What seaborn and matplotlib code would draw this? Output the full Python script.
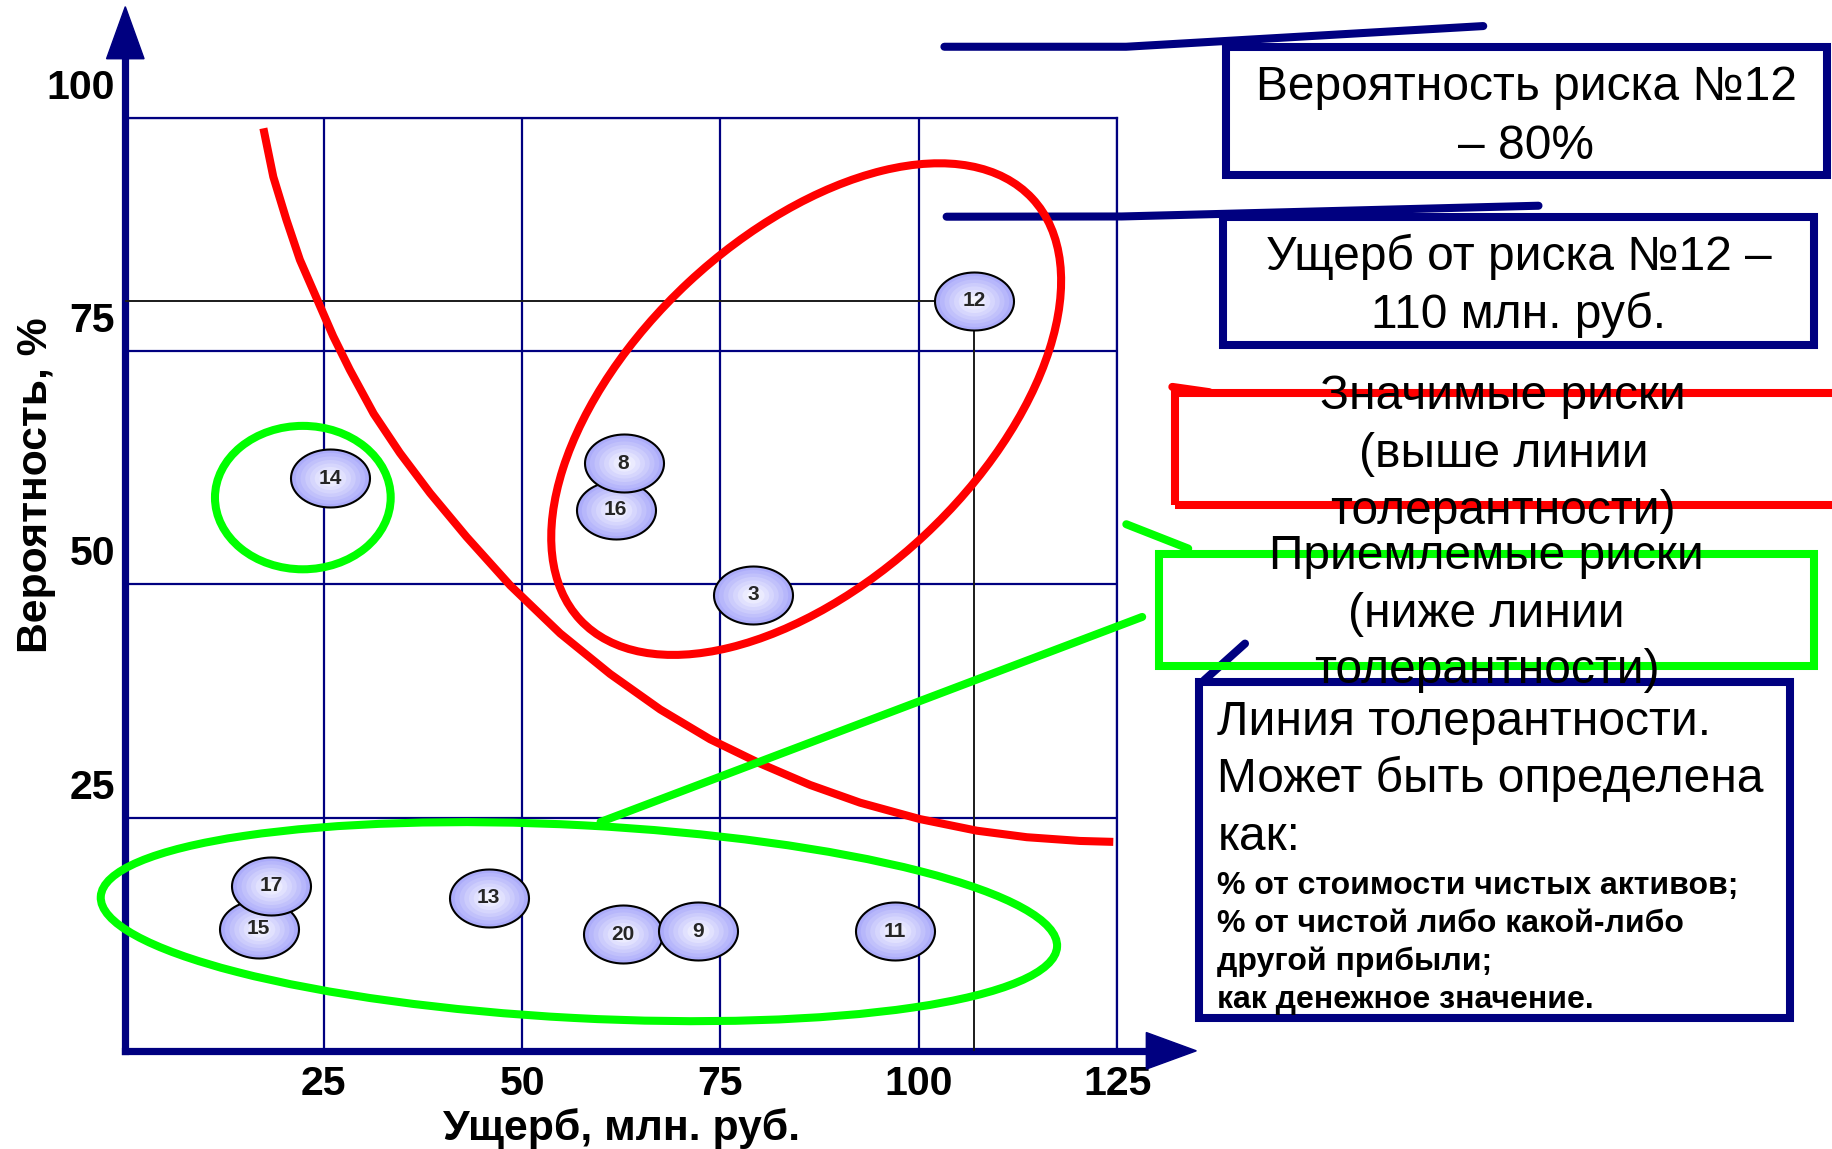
import numpy as np
import pandas as pd
import matplotlib
matplotlib.use("Agg")
import matplotlib.pyplot as plt
import seaborn as sns
from matplotlib import font_manager, transforms
from matplotlib.path import Path
from matplotlib.patches import Ellipse, Rectangle, Polygon
from matplotlib.lines import Line2D

# ---------------- data ----------------
risk_ids = ["15", "17", "14", "13", "16", "8", "20", "9", "3", "11", "12"]
damage = [16.8, 18.4, 25.8, 45.8, 61.8, 62.8, 62.7, 72.2, 79.1, 97.0, 107.0]
probability = [13.1, 17.7, 61.4, 16.4, 58.0, 63.0, 12.5, 12.8, 48.9, 12.8, 80.4]

tol_damage = [17.4, 18.65, 20.3, 22.0, 24.1, 26.2, 28.3, 31.3, 34.6, 38.4, 43.0, 48.5,
              54.8, 61.1, 67.4, 73.7, 80.0, 86.3, 92.6, 100.1, 107.3, 113.6, 120.3, 124.5]
tol_prob = [98.9, 93.7, 89.1, 84.8, 80.7, 76.6, 73.0, 68.3, 64.1, 59.8, 55.1, 49.9,
            44.75, 40.4, 36.6, 33.4, 30.8, 28.5, 26.6, 24.85, 23.6, 22.9, 22.5, 22.4]

x_ticks = [25, 50, 75, 100, 125]
y_ticks = [25, 50, 75, 100]
x_label = "Ущерб, млн. руб."
y_label = "Вероятность, %"

box1_lines = ["Вероятность риска №12", "– 80%"]
box2_lines = ["Ущерб от риска №12 –", "110 млн. руб."]
box3_lines = ["Значимые риски", "(выше линии", "толерантности)"]
box4_lines = ["Приемлемые риски", "(ниже линии", "толерантности)"]
box5_big = ["Линия толерантности.", "Может быть определена", "как:"]
box5_small = ["% от стоимости чистых активов;", "% от чистой либо какой-либо",
              "другой прибыли;", "как денежное значение."]

df = pd.DataFrame({"risk": risk_ids, "damage": damage, "probability": probability})
tol = pd.DataFrame({"damage": tol_damage, "probability": tol_prob})

# ---------------- style ----------------
sns.set_theme(style="white")
names = {f.name for f in font_manager.fontManager.ttflist}
BASE = "Liberation Sans" if "Liberation Sans" in names else "DejaVu Sans"
NARROW = "Liberation Sans Narrow" if "Liberation Sans Narrow" in names else None
plt.rcParams["font.family"] = [BASE, "DejaVu Sans"]

NAVY = "#000080"
RED = "#ff0000"
GREEN = "#00ff00"
LW = 5.8

W, H = 1568.0, 983.0          # layout units
FW, FH = 18.32, 11.49
fig = plt.figure(figsize=(FW, FH), dpi=100)
fig.patch.set_facecolor("white")

def inch(x, y):
    return x * FW / W, (H - y) * FH / H

ax = fig.add_axes([107.25 / W, 1 - 899 / H, 849 / W, 798 / H])
ax.set_xlim(0, 125)
ax.set_ylim(0, 100)
ax.set_facecolor("white")

# grid
ax.set_xticks(x_ticks)
ax.set_yticks(y_ticks)
ax.grid(True, color=NAVY, lw=1.6)
ax.set_axisbelow(True)
for s in ["top", "right"]:
    ax.spines[s].set_visible(True)
    ax.spines[s].set_color(NAVY)
    ax.spines[s].set_linewidth(1.6)
for s in ["left", "bottom"]:
    ax.spines[s].set_visible(False)

ax.tick_params(axis="both", length=0)
ax.tick_params(axis="x", pad=10.5)
ax.tick_params(axis="y", pad=7.5)
ax.set_xticklabels([str(v) for v in x_ticks], fontsize=29.5, fontweight="bold", color="black")
ax.set_yticklabels([str(v) for v in y_ticks], fontsize=29.5, fontweight="bold", color="black")
off = transforms.ScaledTranslation(0, 0.19, fig.dpi_scale_trans)
for lbl in ax.get_yticklabels():
    lbl.set_va("baseline")
    lbl.set_transform(lbl.get_transform() + off)

ax.set_xlabel(x_label, fontsize=30.8, fontweight="bold", va="baseline", color="black")
ax.xaxis.set_label_coords(0.5003, -0.0961)
ax.set_ylabel(y_label, fontsize=30.7, fontweight="bold", rotation=90,
              rotation_mode="anchor", ha="center", va="baseline", color="black")
ax.yaxis.set_label_coords(-0.0792, 0.6065)

# axis arrows
ax.plot([0, 0], [0, 1.07], transform=ax.transAxes, color=NAVY, lw=5.2,
        solid_capstyle="projecting", clip_on=False, zorder=4)
ax.plot([0, 1.035], [0, 0], transform=ax.transAxes, color=NAVY, lw=5.2,
        solid_capstyle="projecting", clip_on=False, zorder=4)
ax.add_patch(Polygon([(-0.0189, 1.0636), (0.0189, 1.0636), (0, 1.1194)], closed=True,
                     transform=ax.transAxes, color=NAVY, clip_on=False, zorder=4))
ax.add_patch(Polygon([(1.0293, -0.0196), (1.0293, 0.0196), (1.0797, 0)], closed=True,
                     transform=ax.transAxes, color=NAVY, clip_on=False, zorder=4))

# tolerance curve
sns.lineplot(data=tol, x="damage", y="probability", sort=False, estimator=None,
             color=RED, lw=LW, ax=ax, zorder=6, solid_capstyle="butt", solid_joinstyle="round")

# guides for risk 12
r12 = df[df["risk"] == "12"].iloc[0]
ax.plot([0, r12["damage"]], [r12["probability"], r12["probability"]], color="#1a1a1a", lw=1.4, zorder=5)
ax.plot([r12["damage"], r12["damage"]], [r12["probability"], 0], color="#1a1a1a", lw=1.4, zorder=5)

# bubbles
t = np.linspace(0, 2 * np.pi, 73)
ell_marker = Path(np.column_stack([np.cos(t), 0.734 * np.sin(t)]), closed=True)
S = 3237
base_rgb = np.array([172, 172, 250]) / 255
center_rgb = np.array([246, 246, 255]) / 255
layers = [0.88, 0.76, 0.64, 0.52, 0.40, 0.28, 0.16]
for i in range(len(df)):
    row = df.iloc[[i]]
    z = 10 + i * 12
    sns.scatterplot(data=row, x="damage", y="probability", ax=ax, marker=ell_marker, s=S,
                    color=tuple(base_rgb), edgecolor="black", linewidth=1.5, zorder=z, legend=False)
    for k, sc in enumerate(layers):
        f = (k + 1) / len(layers)
        col = tuple(base_rgb * (1 - f) + center_rgb * f)
        sns.scatterplot(data=row, x="damage", y="probability", ax=ax, marker=ell_marker,
                        s=S * sc ** 2, color=col, linewidth=0, zorder=z + 1 + k, legend=False)
    xv, yv, lab = row["damage"].iloc[0], row["probability"].iloc[0], row["risk"].iloc[0]
    if NARROW:
        ax.text(xv, yv, lab, ha="center", va="center", fontsize=17, fontweight="bold",
                family=NARROW, zorder=z + 10)
    else:
        ax.text(xv, yv, lab, ha="center", va="center", fontsize=15, fontweight="bold",
                zorder=z + 10)

# ---------------- annotations (figure level) ----------------
def fline(pts, color, lw=LW, z=2):
    xs = [p[0] / W for p in pts]
    ys = [1 - p[1] / H for p in pts]
    fig.add_artist(Line2D(xs, ys, transform=fig.transFigure, color=color, lw=lw,
                          solid_capstyle="round", solid_joinstyle="round", zorder=z))

def fbox(x0, y0, x1, y1, color, lw=LW, z=2):
    fig.add_artist(Rectangle((x0 / W, 1 - y1 / H), (x1 - x0) / W, (y1 - y0) / H,
                             transform=fig.transFigure, fill=False, edgecolor=color,
                             lw=lw, joinstyle="miter", zorder=z))

def fell(cx, cy, w, h, ang, color, lw=LW, z=3):
    c = inch(cx, cy)
    fig.add_artist(Ellipse(c, w * FW / W, h * FH / H, angle=ang, transform=fig.dpi_scale_trans,
                           fill=False, edgecolor=color, lw=lw, zorder=z))

def ftext(x, y, s, ha="center", size=34.5, weight="normal"):
    fig.text(x / W, 1 - y / H, s, ha=ha, va="baseline", fontsize=size, fontweight=weight,
             color="black", zorder=10)

# leader lines
fline([(808.3, 40), (963.8, 40), (1269.5, 22.3)], NAVY)
fline([(810.2, 185.4), (960, 185.2), (1316.8, 176)], NAVY)
fline([(1003.4, 331), (1035, 335.5)], RED)
fline([(514, 703.2), (977.6, 527.8)], GREEN)
fline([(964, 448.5), (1017, 469.3)], GREEN)
fline([(1065.6, 550.6), (1030.6, 582)], NAVY)

# ellipses
fell(690, 350, 529, 296, 43, RED)
fell(259.2, 425.7, 150.4, 122.7, 0, GREEN)
fell(495.5, 788.5, 819.6, 165, -3, GREEN)

# boxes
fbox(1049, 40, 1564, 150, NAVY)
fbox(1046.6, 185.4, 1552.8, 295.3, NAVY)
fbox(1006, 336.6, 1585, 432.2, RED)
fbox(992, 473.6, 1552.8, 569.7, GREEN)
fbox(1026.2, 583.4, 1532.4, 871, NAVY)

# box texts
for s, y in zip(box1_lines, [85.6, 136.4]):
    ftext(1306.5, y, s)
for s, y in zip(box2_lines, [231.1, 281.0]):
    ftext(1299.7, y, s)
for s, y in zip(box3_lines, [350.3, 399.4, 447.9]):
    ftext(1286.7, y, s)
for s, y in zip(box4_lines, [486.4, 536.4, 584.5]):
    ftext(1272.4, y, s)
for s, y in zip(box5_big, [629.0, 677.6, 727.5]):
    ftext(1042, y, s, ha="left", size=34.5)
for s, y in zip(box5_small, [765.2, 797.4, 830.2, 862.1]):
    ftext(1042, y, s, ha="left", size=23, weight="bold")

fig.savefig("out.png", dpi=100, facecolor="white")
